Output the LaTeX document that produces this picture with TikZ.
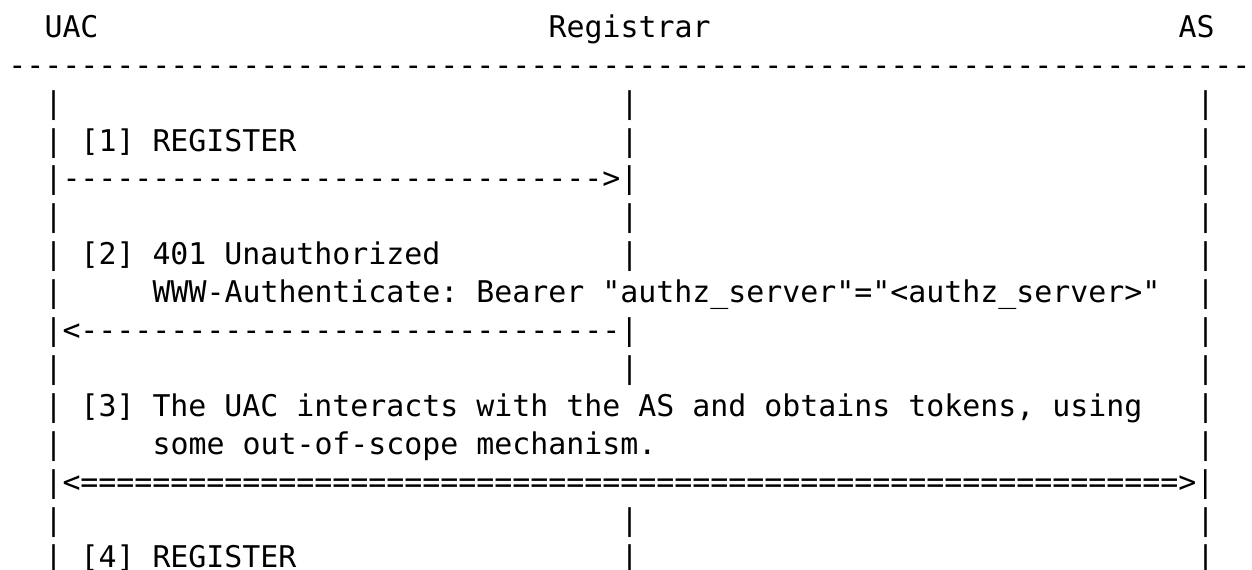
\documentclass[tikz,border=0pt]{standalone}
\usepackage{fontspec}
\setmonofont{DejaVu Sans Mono}
\frenchspacing
% character grid: column width, line pitch and origin (in picture units)
\newcommand\colw{18}
\newcommand\rowh{37.9}
\newcommand\xorg{8.5}
\newcommand\yorg{37.3}
\tikzset{mono/.style={anchor=base west, inner sep=0pt, outer sep=0pt,
  font=\ttfamily\fontsize{14.95}{18}\selectfont, text=black}}
% \putcell{name}{column}{row}{text}
\newcommand\putcell[4]{\node[mono] (#1) at ({\xorg+#2*\colw},{\yorg+#3*\rowh}) {#4};}
\begin{document}
\begin{tikzpicture}[x=0.5pt,y=-0.5pt]
\useasboundingbox (0,0) rectangle (1252,569);
\clip (0,0) rectangle (1252,569);

% header
\putcell{uac}{2}{0}{UAC}
\putcell{registrar}{30}{0}{Registrar}
\putcell{as}{65}{0}{AS}
\putcell{rule}{0}{1}{---------------------------------------------------------------------}

% lifelines
\foreach \r in {2,3,5,6,9,13,14}{
  \foreach \c/\n in {2/uac,34/reg,66/as}{
    \putcell{bar-\n-\r}{\c}{\r}{|}
  }
}
\putcell{bar-as-4}{66}{4}{|}
\putcell{bar-uac-7}{2}{7}{|}
\putcell{bar-as-7}{66}{7}{|}
\putcell{bar-as-8}{66}{8}{|}
\putcell{bar-uac-10}{2}{10}{|}
\putcell{bar-as-10}{66}{10}{|}
\putcell{bar-uac-11}{2}{11}{|}
\putcell{bar-as-11}{66}{11}{|}

% [1] REGISTER
\putcell{m1}{4}{3}{[1] REGISTER}
\putcell{a1}{2}{4}{|------------------------------>|}

% [2] 401 Unauthorized
\putcell{m2}{4}{6}{[2] 401 Unauthorized}
\putcell{m2b}{8}{7}{WWW-Authenticate: Bearer "authz\_server"="<authz\_server>"}
\putcell{a2}{2}{8}{|<------------------------------|}

% [3] token acquisition
\putcell{m3}{4}{10}{[3] The UAC interacts with the AS and obtains tokens, using}
\putcell{m3b}{8}{11}{some out-of-scope mechanism.}
\putcell{a3}{2}{12}{|<=============================================================>|}

% [4] REGISTER
\putcell{m4}{4}{14}{[4] REGISTER}
\end{tikzpicture}
\end{document}
